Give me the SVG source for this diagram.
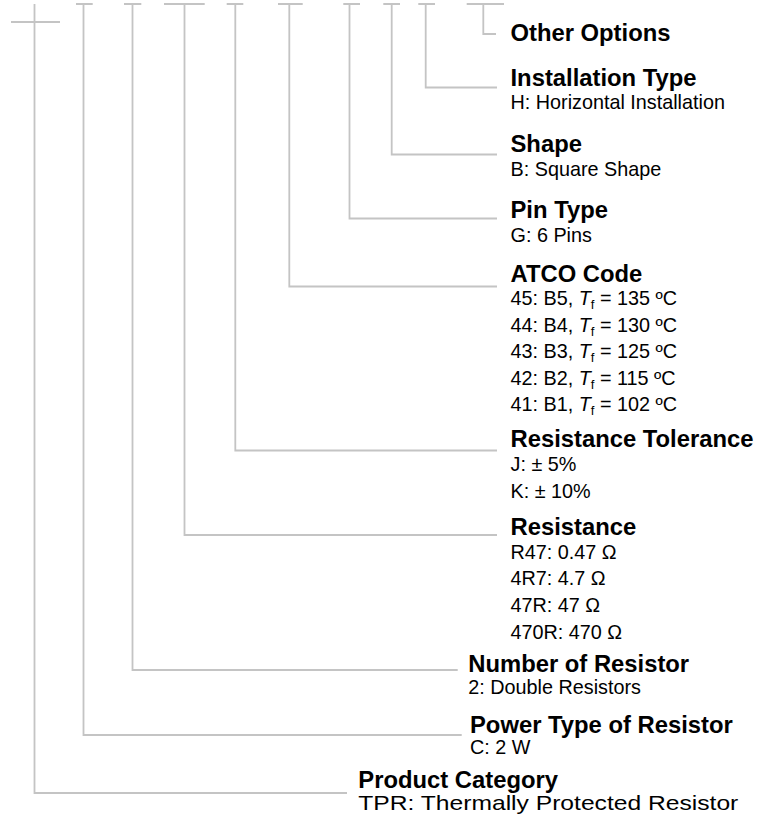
<svg xmlns="http://www.w3.org/2000/svg" width="774" height="814" viewBox="0 0 774 814">
<style>
.ln{fill:none;stroke:#c4c4c4;stroke-width:1.8}
.h{font-family:"Liberation Sans",Arial,sans-serif;font-weight:bold;font-size:23.8px;fill:#000}
.d{font-family:"Liberation Sans",Arial,sans-serif;font-size:19.8px;fill:#000}
.it{font-style:italic}
.sb{font-size:13px}
</style>
<rect width="774" height="814" fill="#fff"/>
<g id="connectors">
<path class="ln" d="M34.5,4 V793 H347"/>
<path class="ln" d="M11,22 H60"/>
<path class="ln" d="M76,4 H92.7 M83.5,4 V735 H461.7"/>
<path class="ln" d="M124,4 H141.3 M132.5,4 V670 H457.7"/>
<path class="ln" d="M164,4 H204.7 M184.5,4 V535 H497"/>
<path class="ln" d="M226.7,4 H243.3 M235.3,4 V450.5 H497"/>
<path class="ln" d="M278,4 H302.7 M289.3,4 V286.5 H497"/>
<path class="ln" d="M343.3,4 H360 M349.5,4 V218.5 H497"/>
<path class="ln" d="M383.3,4 H400 M391.7,4 V154.5 H497"/>
<path class="ln" d="M418.3,4 H435 M425.7,4 V87.5 H497"/>
<path class="ln" d="M466.7,4 H504 M483.3,4 V34 H496"/>
</g>
<g id="other-options">
<text class="h" x="510.5" y="40.7">Other Options</text>
</g>
<g id="installation-type">
<text class="h" x="510.5" y="85.7">Installation Type</text>
<text class="d" x="510.5" y="109">H: Horizontal Installation</text>
</g>
<g id="shape">
<text class="h" x="510.5" y="152.3">Shape</text>
<text class="d" x="510.5" y="175.7">B: Square Shape</text>
</g>
<g id="pin-type">
<text class="h" x="510.5" y="218.3">Pin Type</text>
<text class="d" x="510.5" y="241.7">G: 6 Pins</text>
</g>
<g id="atco-code">
<text class="h" x="510.5" y="281.7">ATCO Code</text>
<text class="d" x="510.5" y="305.2">45: B5, <tspan class="it">T</tspan><tspan class="sb" dy="4">f</tspan><tspan dy="-4"> = 135 ºC</tspan></text>
<text class="d" x="510.5" y="331.7">44: B4, <tspan class="it">T</tspan><tspan class="sb" dy="4">f</tspan><tspan dy="-4"> = 130 ºC</tspan></text>
<text class="d" x="510.5" y="358.2">43: B3, <tspan class="it">T</tspan><tspan class="sb" dy="4">f</tspan><tspan dy="-4"> = 125 ºC</tspan></text>
<text class="d" x="510.5" y="384.7">42: B2, <tspan class="it">T</tspan><tspan class="sb" dy="4">f</tspan><tspan dy="-4"> = 115 ºC</tspan></text>
<text class="d" x="510.5" y="411.2">41: B1, <tspan class="it">T</tspan><tspan class="sb" dy="4">f</tspan><tspan dy="-4"> = 102 ºC</tspan></text>
</g>
<g id="resistance-tolerance">
<text class="h" x="510.5" y="446.5">Resistance Tolerance</text>
<text class="d" x="510.5" y="470.5">J: ± 5%</text>
<text class="d" x="510.5" y="497.5">K: ± 10%</text>
</g>
<g id="resistance">
<text class="h" x="510.5" y="534.5">Resistance</text>
<text class="d" x="510.5" y="558.5">R47: 0.47 Ω</text>
<text class="d" x="510.5" y="585.2">4R7: 4.7 Ω</text>
<text class="d" x="510.5" y="611.9">47R: 47 Ω</text>
<text class="d" x="510.5" y="638.6">470R: 470 Ω</text>
</g>
<g id="number-of-resistor">
<text class="h" x="468.3" y="671.7">Number of Resistor</text>
<text class="d" x="468.3" y="694">2: Double Resistors</text>
</g>
<g id="power-type">
<text class="h" x="470" y="732.7">Power Type of Resistor</text>
<text class="d" x="470" y="754.3">C: 2 W</text>
</g>
<g id="product-category">
<text class="h" x="358.3" y="788.3">Product Category</text>
<text class="d" x="358.3" y="810" textLength="380" lengthAdjust="spacingAndGlyphs">TPR: Thermally Protected Resistor</text>
</g>
</svg>
